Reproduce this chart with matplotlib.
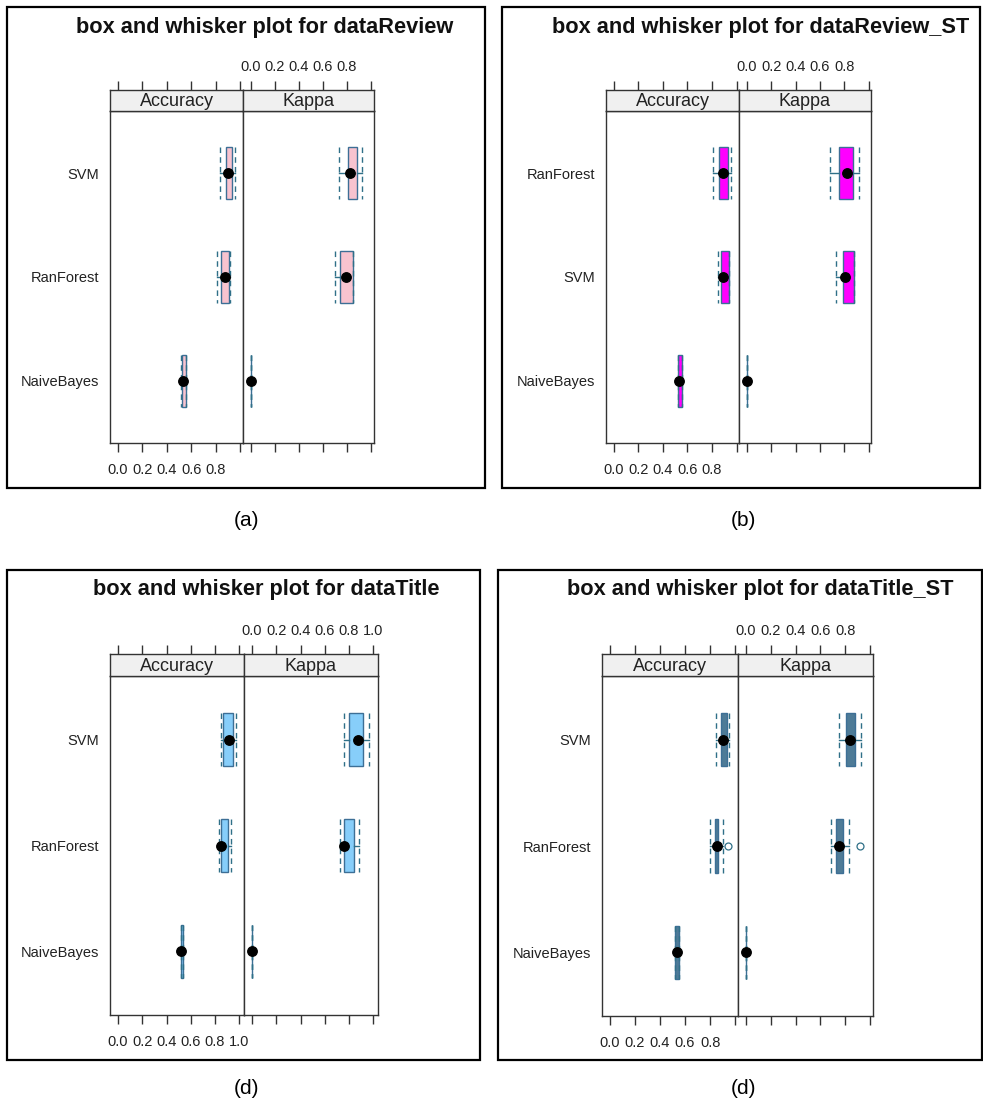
import matplotlib
matplotlib.use("Agg")
import matplotlib.pyplot as plt
from matplotlib.patches import Rectangle

plt.rcParams['font.family'] = ['Liberation Sans', 'DejaVu Sans']

# ---------------- data ----------------
# rows: models (top to bottom); columns: lower whisker, Q1, median, Q3, upper whisker
titles = ["box and whisker plot for dataReview",
          "box and whisker plot for dataReview_ST",
          "box and whisker plot for dataTitle",
          "box and whisker plot for dataTitle_ST"]
captions = ["(a)", "(b)", "(d)", "(d)"]
metrics = ["Accuracy", "Kappa"]

models_review = ["SVM", "RanForest", "NaiveBayes"]
acc_review = [[0.840, 0.887, 0.903, 0.937, 0.958],
              [0.815, 0.843, 0.876, 0.912, 0.915],
              [0.520, 0.526, 0.537, 0.556, 0.556]]
kappa_review = [[0.732, 0.806, 0.828, 0.883, 0.926],
                [0.702, 0.740, 0.792, 0.852, 0.852],
                [0.000, 0.000, 0.000, 0.003, 0.003]]

models_review_st = ["RanForest", "SVM", "NaiveBayes"]
acc_review_st = [[0.809, 0.853, 0.888, 0.932, 0.954],
                 [0.847, 0.875, 0.891, 0.935, 0.935],
                 [0.523, 0.523, 0.534, 0.553, 0.553]]
kappa_review_st = [[0.686, 0.759, 0.824, 0.875, 0.921],
                   [0.732, 0.789, 0.810, 0.883, 0.883],
                   [0.000, 0.000, 0.000, 0.002, 0.002]]

models_title = ["SVM", "RanForest", "NaiveBayes"]
acc_title = [[0.853, 0.870, 0.917, 0.953, 0.972],
             [0.831, 0.850, 0.850, 0.911, 0.934],
             [0.521, 0.521, 0.521, 0.533, 0.533]]
kappa_title = [[0.760, 0.799, 0.871, 0.917, 0.964],
               [0.730, 0.758, 0.758, 0.840, 0.887],
               [0.000, 0.000, 0.000, 0.002, 0.002]]

models_title_st = ["SVM", "RanForest", "NaiveBayes"]
acc_title_st = [[0.847, 0.887, 0.901, 0.938, 0.952],
                [0.799, 0.836, 0.853, 0.863, 0.906],
                [0.523, 0.523, 0.536, 0.550, 0.550]]
kappa_title_st = [[0.747, 0.803, 0.838, 0.880, 0.926],
                  [0.684, 0.726, 0.753, 0.779, 0.830],
                  [0.000, 0.000, 0.003, 0.003, 0.003]]
# outliers per model
acc_title_st_out = [[], [0.946], []]
kappa_title_st_out = [[], [0.920], []]
no_out = [[], [], []]

tick_values = [0.0, 0.2, 0.4, 0.6, 0.8, 1.0]
ticklabels_short = ["0.0", "0.2", "0.4", "0.6", "0.8", ""]
ticklabels_long = ["0.0", "0.2", "0.4", "0.6", "0.8", "1.0"]

fills = ["#F8C3CF", "#FF00FF", "#87CEFA", "#4E7B97"]

datasets = [
    (models_review, acc_review, kappa_review, no_out, no_out, ticklabels_short),
    (models_review_st, acc_review_st, kappa_review_st, no_out, no_out, ticklabels_short),
    (models_title, acc_title, kappa_title, no_out, no_out, ticklabels_long),
    (models_title_st, acc_title_st, kappa_title_st, acc_title_st_out, kappa_title_st_out, ticklabels_short),
]

# ---------------- layout (pixels) ----------------
W, H = 983, 1106
layouts = [
    dict(frame=(7, 7, 485, 488), title=(265, 27), px=(110, 243, 374), strip=(90, 111), bottom=443,
         xlim=(-0.065, 1.025), cap=(247, 521)),
    dict(frame=(502, 7, 980, 488), title=(761, 27), px=(606, 739, 871), strip=(90, 111), bottom=443,
         xlim=(-0.064, 1.02), cap=(743, 521)),
    dict(frame=(7, 570, 480, 1060), title=(266, 590), px=(110, 244, 378), strip=(654, 676), bottom=1015,
         xlim=(-0.067, 1.04), cap=(247, 1088)),
    dict(frame=(498, 570, 982, 1060), title=(760, 590), px=(602, 738, 873), strip=(654, 676), bottom=1016,
         xlim=(-0.063, 1.023), cap=(743, 1088)),
]

EDGE = "#3D6F96"
UMB = "#2F7088"
AXC = "#333333"
TXT = "#222222"

fig = plt.figure(figsize=(W / 100, H / 100), dpi=100)


def add_axes_px(x0, y0, x1, y1):
    return fig.add_axes([x0 / W, 1 - y1 / H, (x1 - x0) / W, (y1 - y0) / H])


for k, (lay, ds) in enumerate(zip(layouts, datasets)):
    models, acc, kap, acc_out, kap_out, tlabels = ds
    fx0, fy0, fx1, fy1 = lay["frame"]
    fig.add_artist(Rectangle((fx0 / W, 1 - fy1 / H), (fx1 - fx0) / W, (fy1 - fy0) / H,
                             transform=fig.transFigure, fill=False, ec="black", lw=1.6))
    fig.text(lay["title"][0] / W, 1 - lay["title"][1] / H, titles[k], ha="center", va="center",
             fontsize=15.7, fontweight="bold", color="#111111")
    fig.text(lay["cap"][0] / W, 1 - lay["cap"][1] / H, captions[k], ha="center", va="center",
             fontsize=15, color="black")

    left, mid, right = lay["px"]
    st, sb = lay["strip"]
    pb = lay["bottom"]
    positions = list(range(1, len(models) + 1))
    for j, (mname, data, outs) in enumerate([(metrics[0], acc, acc_out), (metrics[1], kap, kap_out)]):
        x0, x1 = (left, mid) if j == 0 else (mid, right)
        ax = add_axes_px(x0, sb, x1, pb)
        sax = add_axes_px(x0, st, x1, sb)

        stats = []
        for m, row, o in zip(models, data, outs):
            stats.append(dict(whislo=row[0], q1=row[1], med=row[2], q3=row[3], whishi=row[4],
                              fliers=o, label=m))
        ax.bxp(stats, positions=positions, widths=0.5, capwidths=0.5, orientation="horizontal",
               patch_artist=True, showfliers=True,
               boxprops=dict(facecolor=fills[k], edgecolor=EDGE, linewidth=1.0),
               whiskerprops=dict(color=UMB, linewidth=1.0, linestyle="-"),
               capprops=dict(color=UMB, linewidth=1.0, linestyle=(0, (4, 3))),
               medianprops=dict(linestyle="none"),
               flierprops=dict(marker="o", markerfacecolor="none", markeredgecolor=UMB,
                               markersize=5, markeredgewidth=0.9))
        meds = [row[2] for row in data]
        ax.plot(meds, positions, "o", color="black", markersize=6.8, zorder=6)

        ax.set_xlim(*lay["xlim"])
        ax.set_ylim(len(models) + 0.6, 0.4)
        for s in ax.spines.values():
            s.set_color(AXC)
            s.set_linewidth(1.0)
        ax.set_xticks(tick_values)
        ax.tick_params(axis="x", direction="out", length=6.3, width=1, color=AXC,
                       labelsize=10.5, labelcolor=TXT, pad=8)
        if j == 0:
            ax.set_xticklabels(tlabels)
            ax.set_yticks(positions)
            ax.set_yticklabels(models)
            ax.tick_params(axis="y", length=0, labelsize=10.5, labelcolor=TXT, pad=7.5)
        else:
            ax.set_xticklabels([""] * len(tick_values))
            ax.set_yticks([])

        sax.set_facecolor("#F0F0F0")
        sax.set_xlim(*lay["xlim"])
        sax.set_ylim(0, 1)
        sax.set_yticks([])
        for s in sax.spines.values():
            s.set_color(AXC)
            s.set_linewidth(1.0)
        sax.xaxis.tick_top()
        sax.set_xticks(tick_values)
        sax.tick_params(axis="x", direction="out", length=6.3, width=1, color=AXC,
                        labelsize=10.5, labelcolor=TXT, pad=5)
        if j == 1:
            sax.set_xticklabels(tlabels)
        else:
            sax.set_xticklabels([""] * len(tick_values))
        sax.text(0.5, 0.45, mname, transform=sax.transAxes, ha="center", va="center",
                 fontsize=13, color=TXT)

fig.savefig("out.png", dpi=100)
